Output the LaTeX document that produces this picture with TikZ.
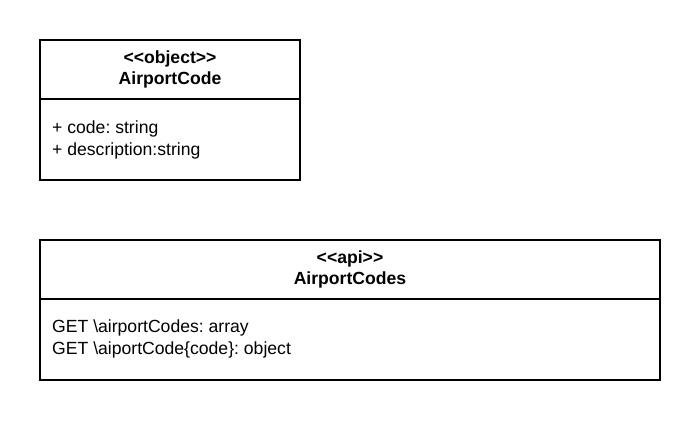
\documentclass[tikz,border=0pt]{standalone}
\usepackage{fontspec}
\setmainfont[Ligatures=NoCommon]{Liberation Sans}
\frenchspacing
\begin{document}
\begin{tikzpicture}[x=1pt,y=-1pt,
  umlbox/.style={draw=black,line width=1.3pt,fill=white},
  sep/.style={draw=black,line width=1.3pt},
  title/.style={font=\fontsize{17.6}{20}\selectfont\bfseries,anchor=center,inner sep=0pt},
  member/.style={font=\fontsize{17.6}{20}\selectfont\frenchspacing,anchor=west,inner sep=0pt}]
\useasboundingbox (0,0) rectangle (700,420);
% box 1
\draw[umlbox] (40,40) rectangle (300,180);
\coordinate (s1a) at (40,99);
\coordinate (s1b) at (300,99);
\draw[sep] (s1a) -- (s1b);
\node[title] (t1a) at (170,58.5) {{<}{<}object{>}{>}};
\node[title] (t1b) at (170,79.5) {AirportCode};
\node[member] (m1a) at (52,128.5) {+ code: string};
\node[member] (m1b) at (52,150.5) {+ description:string};
% box 2
\draw[umlbox] (40,240) rectangle (660,380);
\coordinate (s2a) at (40,299);
\coordinate (s2b) at (660,299);
\draw[sep] (s2a) -- (s2b);
\node[title] (t2a) at (350,258.5) {{<}{<}api{>}{>}};
\node[title] (t2b) at (350,279.5) {AirportCodes};
\node[member] (m2a) at (52,327.5) {GET \textbackslash airportCodes: array};
\node[member] (m2b) at (52,349.5) {GET \textbackslash aiportCode\{code\}: object};
\end{tikzpicture}
\end{document}
